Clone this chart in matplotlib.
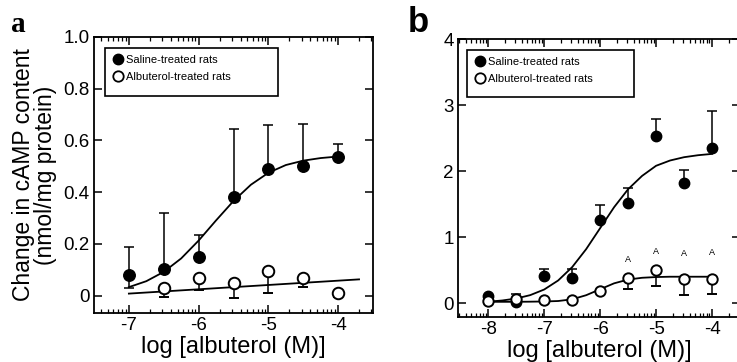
import numpy as np
import matplotlib
matplotlib.use("Agg")
import matplotlib.pyplot as plt
from matplotlib.patches import Rectangle
from matplotlib.lines import Line2D

plt.rcParams['font.family'] = ['Liberation Sans', 'DejaVu Sans']
plt.rcParams['axes.unicode_minus'] = False

# ---------------- data: panel a ----------------
a_x = [-7, -6.5, -6, -5.5, -5, -4.5, -4]
a_sal = [0.08, 0.105, 0.15, 0.38, 0.49, 0.50, 0.535]
a_sal_err = [0.11, 0.215, 0.085, 0.265, 0.17, 0.165, 0.05]
a_alb_x = [-6.5, -6, -5.5, -5, -4.5, -4]
a_alb = [0.03, 0.07, 0.05, 0.095, 0.07, 0.01]
a_alb_err = [0.035, 0.05, 0.06, 0.085, 0.035, 0.015]
a_fit_x = [-7, -6.75, -6.5, -6.25, -6, -5.75, -5.5, -5.25, -5, -4.75, -4.5, -4.25, -4]
a_fit_sal = [0.033, 0.056, 0.092, 0.144, 0.213, 0.291, 0.366, 0.429, 0.475, 0.505, 0.522, 0.532, 0.538]
a_line_x = [-7, -3.7]
a_line_alb = [0.008, 0.063]

# ---------------- data: panel b ----------------
b_x = [-8, -7.5, -7, -6.5, -6, -5.5, -5, -4.5, -4]
b_sal = [0.115, 0.02, 0.41, 0.38, 1.26, 1.51, 2.53, 1.82, 2.35]
b_sal_err = [0.0, 0.12, 0.11, 0.14, 0.22, 0.24, 0.26, 0.20, 0.56]
b_alb = [0.03, 0.07, 0.04, 0.04, 0.19, 0.38, 0.50, 0.36, 0.36]
b_alb_err = [0.0, 0.0, 0.0, 0.0, 0.0, 0.16, 0.24, 0.23, 0.22]
b_fit_x = [-8, -7.75, -7.5, -7.25, -7, -6.75, -6.5, -6.25, -6, -5.75, -5.5, -5.25, -5, -4.75, -4.5, -4.25, -4]
b_fit_sal = [0.022, 0.040, 0.070, 0.121, 0.206, 0.343, 0.545, 0.817, 1.135, 1.453, 1.725, 1.927, 2.08, 2.16, 2.21, 2.24, 2.26]
b_fit_alb = [0.02, 0.02, 0.02, 0.022, 0.025, 0.032, 0.058, 0.12, 0.21, 0.30, 0.357, 0.384, 0.395, 0.40, 0.40, 0.40, 0.40]
b_sig_x = [-5.5, -5, -4.5, -4]
b_sig_y = [0.66, 0.78, 0.75, 0.76]
b_sig_label = "A"

legend_labels = ["Saline-treated rats", "Albuterol-treated rats"]
xlabel = "log [albuterol (M)]"
ylabel = "Change in cAMP content\n(nmol/mg protein)"

W, H = 737, 362
fig = plt.figure(figsize=(W / 100, H / 100), dpi=100)


def px_axes(l, t, r, b):
    return fig.add_axes([l / W, 1 - b / H, (r - l) / W, (b - t) / H])


axa = px_axes(94, 37, 373, 313)
axb = px_axes(458, 39, 740, 317)

MS = 8.3


def style(ax, xlim, ylim, xmaj, ymaj, ylabels):
    ax.set_xlim(*xlim)
    ax.set_ylim(*ylim)
    ax.set_xticks(xmaj)
    ax.set_xticklabels([str(int(v)) for v in xmaj])
    minors = []
    for d in range(int(np.floor(xlim[0])) - 1, int(np.ceil(xlim[1])) + 1):
        for k in range(2, 10):
            v = d + np.log10(k)
            if xlim[0] < v < xlim[1]:
                minors.append(v)
    ax.set_xticks(minors, minor=True)
    ax.set_yticks(ymaj)
    ax.set_yticklabels(ylabels)
    ax.tick_params(axis='both', which='major', direction='in', top=True, right=True,
                   labelsize=13.5, width=1.1, length=5.5, pad=3, color='black')
    ax.tick_params(axis='x', which='minor', direction='in', top=True, bottom=True,
                   width=0.9, length=3)
    for s in ax.spines.values():
        s.set_linewidth(1.3)


def legend_box(ax, l, t, r, b):
    inv = ax.transAxes.inverted()
    p0 = inv.transform((l, H - b))
    p1 = inv.transform((r, H - t))
    ax.add_patch(Rectangle(p0, p1[0] - p0[0], p1[1] - p0[1], transform=ax.transAxes,
                           facecolor='white', edgecolor='black', linewidth=1.2, zorder=5))
    handles = [Line2D([], [], marker='o', ls='none', color='black', markersize=7.5),
               Line2D([], [], marker='o', ls='none', markerfacecolor='white',
                      markeredgecolor='black', markeredgewidth=1.3, markersize=7.5)]
    leg = ax.legend(handles, legend_labels, loc='upper left',
                    bbox_to_anchor=(p0[0] + 0.005, p1[1] - 0.005), frameon=False,
                    fontsize=8, handlelength=1.0, handletextpad=0.3,
                    borderpad=0.5, labelspacing=0.6, borderaxespad=0)
    leg.set_zorder(6)


# ---------- panel a ----------
axa.plot(a_fit_x, a_fit_sal, color='black', lw=1.3, zorder=2)
axa.plot(a_line_x, a_line_alb, color='black', lw=1.3, zorder=2)
axa.errorbar(a_x, a_sal, yerr=[[0.05] + [0] * 6, a_sal_err], fmt='o', color='black',
             markersize=MS, capsize=3.8, elinewidth=1.1, capthick=1.1, zorder=3)
axa.errorbar(a_alb_x, a_alb, yerr=[a_alb_err, [0] * 6], fmt='o', color='black',
             markerfacecolor='white', markeredgecolor='black', markeredgewidth=1.4,
             markersize=MS, capsize=3.8, elinewidth=1.1, capthick=1.1, zorder=4)
style(axa, (-7.5, -3.5), (-0.067, 1.0), [-7, -6, -5, -4],
      [0, 0.2, 0.4, 0.6, 0.8, 1.0], ["0", "0.2", "0.4", "0.6", "0.8", "1.0"])
axa.set_xlabel(xlabel, fontsize=17, labelpad=1)
axa.set_ylabel(ylabel, fontsize=16.5, labelpad=5, linespacing=0.95)
legend_box(axa, 105, 48, 278, 96)

# ---------- panel b ----------
axb.plot(b_fit_x, b_fit_sal, color='black', lw=1.3, zorder=2)
axb.plot(b_fit_x, b_fit_alb, color='black', lw=1.3, zorder=2)
axb.errorbar(b_x, b_sal, yerr=[[0] * 9, b_sal_err], fmt='o', color='black',
             markersize=MS - 0.8, capsize=3.8, elinewidth=1.1, capthick=1.1, zorder=3)
axb.errorbar(b_x, b_alb, yerr=[b_alb_err, [0] * 9], fmt='o', color='black',
             markerfacecolor='white', markeredgecolor='black', markeredgewidth=1.4,
             markersize=MS - 0.8, capsize=3.8, elinewidth=1.1, capthick=1.1, zorder=4)
for xv, yv in zip(b_sig_x, b_sig_y):
    axb.text(xv, yv, b_sig_label, fontsize=6.5, ha='center', va='center')
style(axb, (-8.54, -3.5), (-0.21, 4.0), [-8, -7, -6, -5, -4],
      [0, 1, 2, 3, 4], ["0", "1", "2", "3", "4"])
axb.set_xlabel(xlabel, fontsize=17, labelpad=1)
legend_box(axb, 467, 50, 634, 97)

# panel letters
fig.text(18 / W, 1 - 24 / H, "a", fontsize=21, fontweight='bold',
         family=['Liberation Serif', 'DejaVu Serif'], ha='center', va='center')
fig.text(418 / W, 1 - 22 / H, "b", fontsize=25, fontweight='bold',
         family=['Liberation Sans', 'DejaVu Sans'], ha='center', va='center')

fig.savefig("out.png", dpi=100)
